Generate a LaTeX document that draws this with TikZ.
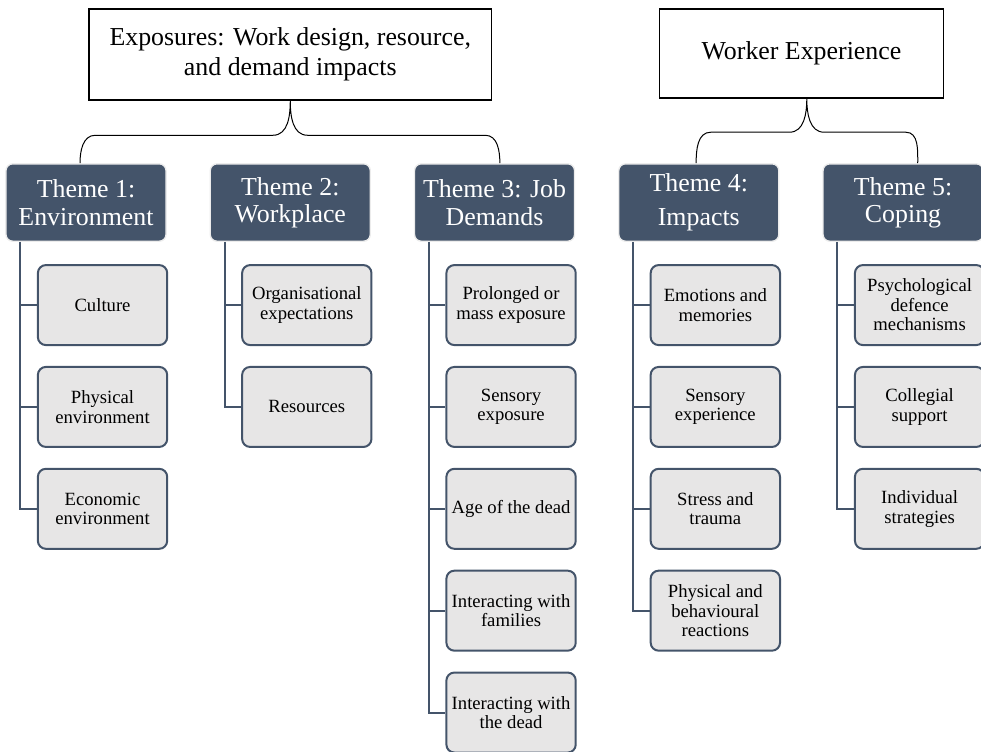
\documentclass[tikz,border=0pt]{standalone}
\usepackage{fontspec}
\setmainfont{Liberation Serif}
\usepackage{tikz}
\usetikzlibrary{positioning, calc}
\usepackage{xcolor}
\definecolor{slate}{HTML}{44546A}
\definecolor{leafgray}{HTML}{E7E6E6}

\begin{document}
\begin{tikzpicture}[node distance=76.4pt and 153.2pt,on grid]
    \tikzstyle{topbox}=[draw,line width=1.1pt,fill=white,align=center,font=\fontsize{19.4}{22.5}\selectfont]
    \tikzstyle{theme}=[shape=rectangle,rounded corners=5pt,fill=slate,draw=gray!15,line width=1pt,text=white,align=center,minimum width=120pt,minimum height=58pt,font=\fontsize{19.4}{20.5}\selectfont]
    \tikzstyle{leaf}=[shape=rectangle,rounded corners=6pt,fill=leafgray,draw=slate,line width=1.5pt,align=center,minimum width=97pt,minimum height=60pt,font=\fontsize{14}{14.6}\selectfont]
    \tikzstyle{conn}=[draw=slate,line width=1.5pt]
    \tikzstyle{brace}=[draw=black,line width=0.75pt]

    \clip (-64.5pt,151.9pt) rectangle (671.25pt,-411.4pt);

    \node[theme] (t1) at (0,0) {Theme 1:\\Environment};
    \node[theme, right=of t1] (t2) {Theme 2:\\Workplace};
    \node[theme, right=of t2] (t3) {Theme 3: Job\\Demands};
    \node[theme, right=of t3] (t4) {Theme 4:\\[5pt]Impacts};
    \node[theme, right=of t4] (t5) {Theme 5:\\Coping};

    \node[topbox, minimum width=302pt, minimum height=68pt, above=111pt of t2] (expo) {Exposures: Work design, resource,\\and demand impacts};
    \node[topbox, minimum width=213pt, minimum height=67pt, above right=111.8pt and 77pt of t4] (worker) {Worker Experience};

    \node[leaf, below right=76.9pt and 12.4pt of t1] (cult) {Culture};
    \node[leaf, below=of cult] (phys) {Physical\\environment};
    \node[leaf, below=of phys] (econ) {Economic\\environment};

    \node[leaf, below right=76.9pt and 12.4pt of t2] (orga) {Organisational\\expectations};
    \node[leaf, below=of orga] (reso) {Resources};

    \node[leaf, below right=76.9pt and 12.4pt of t3] (prol) {Prolonged or\\mass exposure};
    \node[leaf, below=of prol] (sens) {Sensory\\exposure};
    \node[leaf, below=of sens] (aged) {Age of the dead};
    \node[leaf, below=of aged] (fami) {Interacting with\\families};
    \node[leaf, below=of fami] (dead) {Interacting with\\the dead};

    \node[leaf, below right=76.9pt and 12.4pt of t4] (emot) {Emotions and\\memories};
    \node[leaf, below=of emot] (sexp) {Sensory\\experience};
    \node[leaf, below=of sexp] (stre) {Stress and\\trauma};
    \node[leaf, below=of stre] (beha) {Physical and\\behavioural\\reactions};

    \node[leaf, below right=76.9pt and 12.4pt of t5] (psyc) {Psychological\\defence\\mechanisms};
    \node[leaf, below=of psyc] (coll) {Collegial\\support};
    \node[leaf, below=of coll] (indi) {Individual\\strategies};

    \path[conn]
    ([xshift=11.25pt]t1.south west) |- (cult.west)
    ([xshift=11.25pt]t1.south west) |- (phys.west)
    ([xshift=11.25pt]t1.south west) |- (econ.west)
    ([xshift=11.25pt]t2.south west) |- (orga.west)
    ([xshift=11.25pt]t2.south west) |- (reso.west)
    ([xshift=11.25pt]t3.south west) |- (prol.west)
    ([xshift=11.25pt]t3.south west) |- (sens.west)
    ([xshift=11.25pt]t3.south west) |- (aged.west)
    ([xshift=11.25pt]t3.south west) |- (fami.west)
    ([xshift=11.25pt]t3.south west) |- (dead.west)
    ([xshift=11.25pt]t4.south west) |- (emot.west)
    ([xshift=11.25pt]t4.south west) |- (sexp.west)
    ([xshift=11.25pt]t4.south west) |- (stre.west)
    ([xshift=11.25pt]t4.south west) |- (beha.west)
    ([xshift=11.25pt]t5.south west) |- (psyc.west)
    ([xshift=11.25pt]t5.south west) |- (coll.west)
    ([xshift=11.25pt]t5.south west) |- (indi.west);

    \coordinate (m1) at ($(expo.south)+(0,-26pt)$);
    \coordinate (m2) at ($(worker.south)+(4pt,-25pt)$);
    \path[brace]
    ($(expo.south)$) to[out=-90,in=0] ($(m1)+(-13pt,0)$) -- ($(m1 -| t1.north)+(7pt,0)$) to[out=180,in=90] ([xshift=-4.5pt]t1.north)
    ($(expo.south)$) to[out=-90,in=180] ($(m1)+(13pt,0)$) -- ($(m1 -| t3.north)+(-7pt,0)$) to[out=0,in=90] ([xshift=4pt]t3.north)
    ($(worker.south)+(4pt,0)$) to[out=-90,in=0] ($(m2)+(-13pt,0)$) -- ($(m2 -| t4.north)+(9pt,0)$) to[out=180,in=90] ([xshift=-2pt]t4.north)
    ($(worker.south)+(4pt,0)$) to[out=-90,in=180] ($(m2)+(13pt,0)$) -- ($(m2 -| t5.north)+(2pt,0)$) to[out=0,in=90] ([xshift=11pt]t5.north);

\end{tikzpicture}
\end{document}
